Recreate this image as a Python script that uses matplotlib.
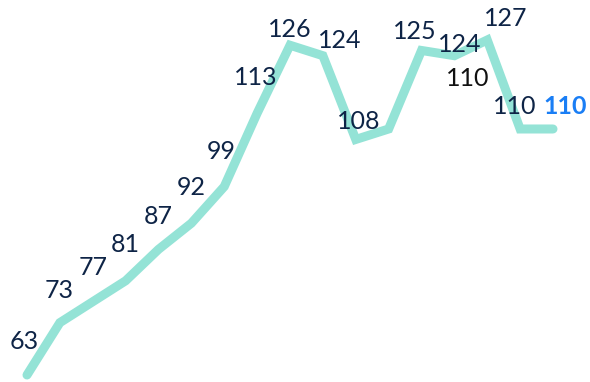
import matplotlib
matplotlib.use("Agg")
import matplotlib.pyplot as plt

# Weekly values
values = [63, 73, 77, 81, 87, 92, 99, 113, 126, 124, 108, 110, 125, 124, 127, 110, 110]
labels = [str(v) for v in values]

# Label offsets (pixels, relative to each point) and styling
label_offsets = [(-3, 26), (-1, 25), (0, 27), (0, 29), (0, 25), (0, 28), (-3, 28),
                 (-1, 28), (0, 8), (17, 8), (3, 10), (79, 43), (-7, 11), (5, 4),
                 (18, 14), (-5, 15), (12, 15)]

line_color = "#94E3D6"
text_color = "#0E2446"
last_color = "#1A7EF5"

fig = plt.figure(figsize=(5.9, 3.82), dpi=100)
ax = fig.add_axes([0, 0, 1, 1])
x = list(range(len(values)))
ax.plot(x, values, color=line_color, lw=6.5, solid_capstyle="round",
        solid_joinstyle="miter")

for i, (v, lab) in enumerate(zip(values, labels)):
    dx, dy = label_offsets[i]
    color = text_color
    weight = "normal"
    if i == len(values) - 1:
        color, weight = last_color, "bold"
    elif i == 11:
        color = "#111111"
    ax.annotate(lab, (i, v), xytext=(dx, dy), textcoords="offset pixels",
                ha="center", va="baseline", fontsize=18, family="Lato",
                color=color, fontweight=weight)

# Map the 17 points onto the canvas
px_x = (553 - 27) / 16
ax.set_xlim(-27 / px_x, 16 + (590 - 553) / px_x)
px_y = (375 - 40) / (127 - 63)
ax.set_ylim(63 - 7 / px_y, 127 + 40 / px_y)
ax.axis("off")

fig.savefig("out.png", dpi=100)
